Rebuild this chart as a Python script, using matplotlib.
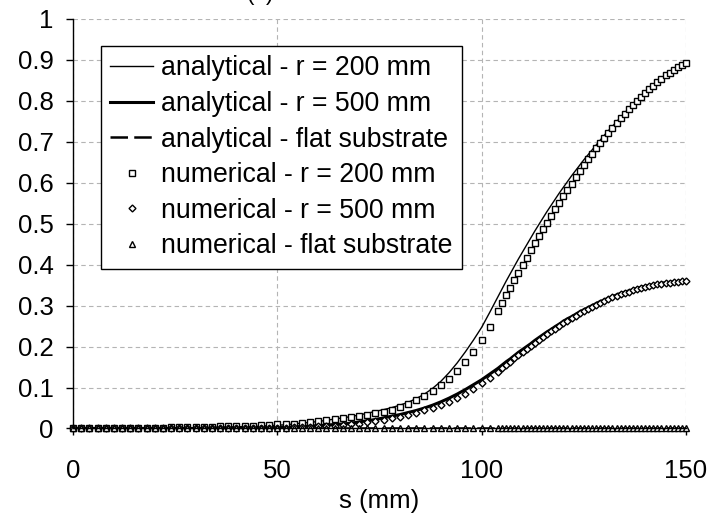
#!/usr/bin/env python3
"""
Deposited fraction along the substrate: analytical vs numerical results
for curved substrates (r = 200 mm, r = 500 mm) and a flat substrate.
"""

import matplotlib
matplotlib.use('Agg')
import matplotlib.pyplot as plt

plt.rcParams['font.family'] = 'Liberation Sans'

# Positions along the substrate (mm): 2 mm mesh up to 104 mm, 1 mm mesh after
s_mm = list(range(0, 105, 2)) + list(range(105, 151))

# Analytical solution, r = 200 mm
ana_200 = [
    0.000, 0.000, 0.000, 0.000, 0.000, 0.000, 0.001, 0.001, 0.001, 0.001,   # 0-18
    0.001, 0.001, 0.001, 0.002, 0.002, 0.002, 0.002, 0.003, 0.003, 0.004,   # 20-38
    0.004, 0.005, 0.005, 0.006, 0.007, 0.008, 0.009, 0.011, 0.013, 0.015,   # 40-58
    0.017, 0.020, 0.023, 0.026, 0.029, 0.033, 0.037, 0.042, 0.046, 0.051,   # 60-78
    0.057, 0.064, 0.073, 0.084, 0.098, 0.115, 0.136, 0.160, 0.187, 0.216,   # 80-98
    0.247, 0.284, 0.322,                                                    # 100-104
    0.341, 0.360, 0.378, 0.396, 0.414,                                      # 105-109
    0.431, 0.448, 0.465, 0.482, 0.498,
    0.514, 0.530, 0.545, 0.560, 0.575,
    0.589, 0.603, 0.617, 0.630, 0.643,
    0.656, 0.668, 0.680, 0.692, 0.704,
    0.716, 0.727, 0.738, 0.749, 0.760,
    0.771, 0.781, 0.791, 0.801, 0.811,
    0.821, 0.830, 0.838, 0.847, 0.855,
    0.863, 0.870, 0.877, 0.884, 0.890,
    0.896,                                                                  # 150
]

# Analytical solution, r = 500 mm
ana_500 = [
    0.000, 0.000, 0.000, 0.000, 0.000, 0.000, 0.000, 0.000, 0.000, 0.000,
    0.000, 0.000, 0.000, 0.000, 0.000, 0.000, 0.000, 0.001, 0.001, 0.001,
    0.001, 0.001, 0.002, 0.002, 0.002, 0.003, 0.003, 0.004, 0.005, 0.006,
    0.007, 0.008, 0.010, 0.011, 0.013, 0.016, 0.019, 0.022, 0.026, 0.030,
    0.034, 0.039, 0.044, 0.050, 0.057, 0.065, 0.074, 0.084, 0.095, 0.107,
    0.119, 0.133, 0.147,
    0.155, 0.163, 0.170, 0.178, 0.186,
    0.193, 0.200, 0.207, 0.215, 0.222,
    0.229, 0.236, 0.242, 0.249, 0.255,
    0.262, 0.268, 0.273, 0.279, 0.285,
    0.290, 0.295, 0.300, 0.305, 0.310,
    0.314, 0.318, 0.322, 0.326, 0.330,
    0.333, 0.336, 0.339, 0.342, 0.345,
    0.347, 0.349, 0.351, 0.353, 0.355,
    0.356, 0.357, 0.358, 0.359, 0.360,
    0.361,
]

# Numerical solution, r = 200 mm
num_200 = [
    0.001, 0.001, 0.001, 0.001, 0.001, 0.001, 0.001, 0.002, 0.002, 0.002,
    0.002, 0.002, 0.003, 0.003, 0.003, 0.003, 0.004, 0.004, 0.005, 0.005,
    0.006, 0.006, 0.007, 0.008, 0.009, 0.010, 0.011, 0.012, 0.014, 0.016,
    0.018, 0.020, 0.022, 0.025, 0.028, 0.031, 0.034, 0.037, 0.041, 0.046,
    0.052, 0.060, 0.069, 0.079, 0.091, 0.105, 0.122, 0.141, 0.163, 0.188,
    0.216, 0.249, 0.287,
    0.306, 0.325, 0.344, 0.362, 0.380,
    0.399, 0.417, 0.435, 0.452, 0.469,
    0.486, 0.503, 0.519, 0.535, 0.551,
    0.567, 0.582, 0.597, 0.613, 0.628,
    0.643, 0.657, 0.671, 0.684, 0.697,
    0.710, 0.722, 0.734, 0.746, 0.757,
    0.768, 0.779, 0.789, 0.799, 0.809,
    0.819, 0.828, 0.837, 0.846, 0.854,
    0.862, 0.869, 0.876, 0.882, 0.887,
    0.892,
]

# Numerical solution, r = 500 mm
num_500 = [
    0.000, 0.000, 0.000, 0.000, 0.000, 0.000, 0.000, 0.000, 0.000, 0.000,
    0.000, 0.000, 0.000, 0.000, 0.000, 0.000, 0.000, 0.000, 0.000, 0.001,
    0.001, 0.001, 0.001, 0.001, 0.002, 0.002, 0.002, 0.003, 0.004, 0.004,
    0.005, 0.006, 0.007, 0.009, 0.010, 0.012, 0.015, 0.018, 0.021, 0.025,
    0.029, 0.033, 0.038, 0.044, 0.050, 0.057, 0.065, 0.074, 0.085, 0.097,
    0.110, 0.124, 0.139,
    0.147, 0.155, 0.163, 0.171, 0.179,
    0.187, 0.194, 0.202, 0.209, 0.216,
    0.223, 0.230, 0.237, 0.244, 0.250,
    0.257, 0.263, 0.269, 0.275, 0.281,
    0.286, 0.291, 0.297, 0.302, 0.307,
    0.311, 0.315, 0.320, 0.324, 0.328,
    0.331, 0.334, 0.337, 0.340, 0.343,
    0.346, 0.348, 0.350, 0.352, 0.354,
    0.355, 0.356, 0.357, 0.358, 0.359,
    0.360,
]

# Flat substrate: zero everywhere, both solutions
ana_flat = [0.0] * len(s_mm)
num_flat = [0.0] * len(s_mm)

y_ticks = [0, 0.1, 0.2, 0.3, 0.4, 0.5, 0.6, 0.7, 0.8, 0.9, 1]
y_tick_labels = ['0', '0.1', '0.2', '0.3', '0.4', '0.5', '0.6', '0.7', '0.8', '0.9', '1']
x_ticks = [0, 50, 100, 150]

FS = 18.5
LEG_FS = 19.2

fig = plt.figure(figsize=(7.11, 5.16), dpi=100)
ax = fig.add_axes([0.1027, 0.1696, 0.8621, 0.7936])

ax.plot(s_mm, ana_200, color='black', lw=1.0, label='analytical - r = 200 mm')
ax.plot(s_mm, ana_500, color='black', lw=2.2, label='analytical - r = 500 mm')
ax.plot(s_mm, ana_flat, color='black', lw=1.8, dashes=(7, 2.5),
        label='analytical - flat substrate')

marker_style = dict(ls='none', mfc='white', mec='black', mew=1.0, clip_on=False)
ax.plot(s_mm, num_200, marker='s', ms=5, label='numerical - r = 200 mm', **marker_style)
ax.plot(s_mm, num_500, marker='D', ms=3.5, label='numerical - r = 500 mm', **marker_style)
ax.plot(s_mm, num_flat, marker='^', ms=4, label='numerical - flat substrate', **marker_style)

ax.set_xlim(0, 150)
ax.set_ylim(0, 1)
ax.set_xticks(x_ticks)
ax.set_yticks(y_ticks)
ax.set_yticklabels(y_tick_labels)
ax.tick_params(axis='both', direction='out', length=5, width=1, labelsize=FS, color='black')
ax.tick_params(axis='x', pad=17)
ax.tick_params(axis='y', pad=9)
ax.set_xlabel('s (mm)', fontsize=FS, labelpad=4)

ax.spines['top'].set_visible(False)
ax.spines['right'].set_visible(False)
for side in ['left', 'bottom']:
    ax.spines[side].set_linewidth(1.0)
    ax.spines[side].set_color('black')

ax.grid(True, color='#b4b4b4', ls=(0, (4, 3)), lw=0.8)
ax.set_axisbelow(True)

leg = ax.legend(loc='upper left', bbox_to_anchor=(101 / 711, 1 - 46 / 516),
                bbox_transform=fig.transFigure, borderaxespad=0,
                fontsize=LEG_FS, frameon=True, fancybox=False, framealpha=1,
                edgecolor='black', handlelength=1.6, handletextpad=0.3,
                labelspacing=0.36, borderpad=0.35)
leg.get_frame().set_linewidth(1.0)

# panel label sitting at the top edge
fig.text(0.366, 1.0, '(a)', ha='center', va='baseline', fontsize=16)

plt.savefig('out.png', dpi=100)
plt.close()
